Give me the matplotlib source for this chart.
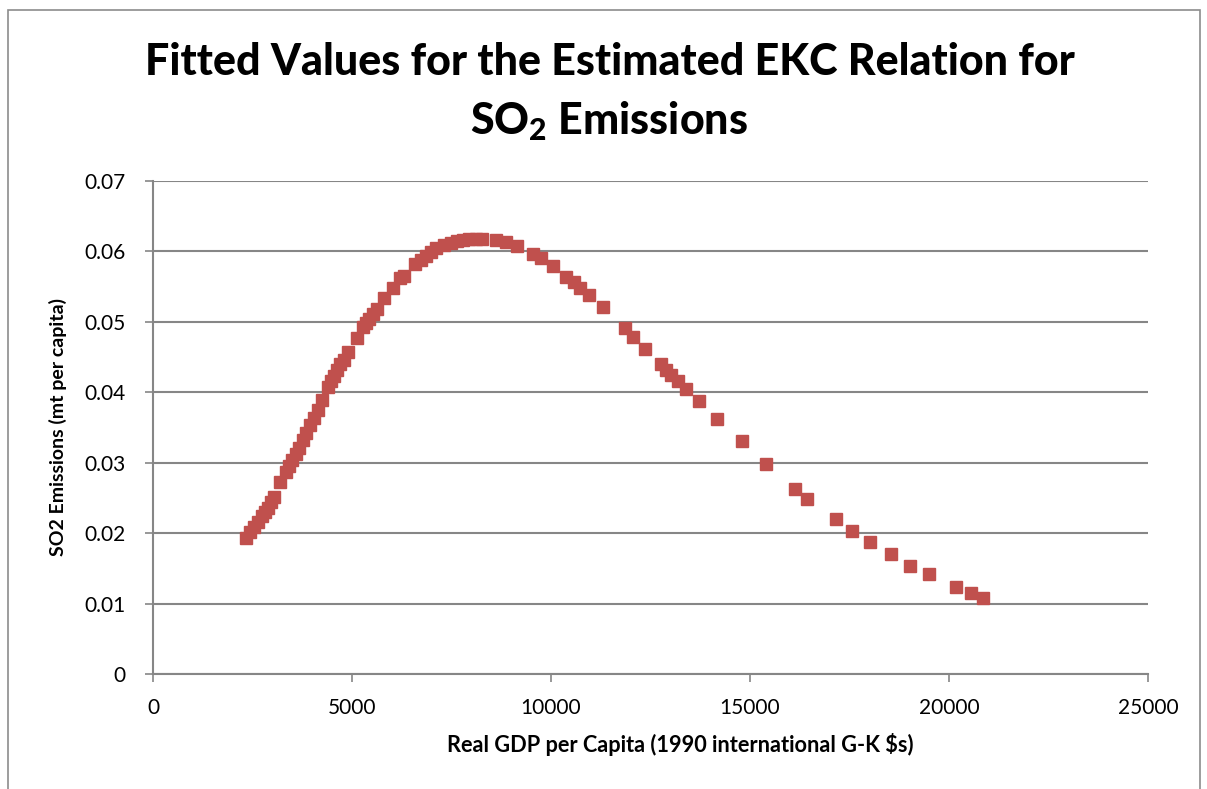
import matplotlib.pyplot as plt
from matplotlib import ticker
from matplotlib.patches import Rectangle

# GDP per capita (1990 international G-K $) and fitted SO2 emissions (mt per capita)
gdp = [2337, 2437, 2538, 2638, 2739, 2814, 2889, 2965, 3040, 3191,
       3342, 3417, 3492, 3593, 3668, 3769, 3844, 3945, 4045, 4146,
       4246, 4397, 4472, 4548, 4623, 4698, 4799, 4899, 5126, 5276,
       5352, 5427, 5528, 5628, 5804, 6030, 6206, 6307, 6583, 6734,
       6859, 6985, 7111, 7312, 7487, 7638, 7789, 7940, 8116, 8266,
       8618, 8869, 9146, 9548, 9749, 10050, 10377, 10578, 10729, 10955,
       11307, 11859, 12060, 12362, 12764, 12889, 13015, 13191, 13392, 13719,
       14171, 14791, 15402, 16131, 16442, 17153, 17570, 18007, 18534, 19028,
       19490, 20168, 20561, 20854]
so2 = [0.0193, 0.0202, 0.0209, 0.0216, 0.0224, 0.0230, 0.0236, 0.0244, 0.0251, 0.0273,
       0.0287, 0.0295, 0.0304, 0.0312, 0.0321, 0.0332, 0.0342, 0.0354, 0.0363, 0.0375,
       0.0389, 0.0407, 0.0416, 0.0423, 0.0432, 0.0440, 0.0446, 0.0457, 0.0477, 0.0493,
       0.0498, 0.0504, 0.0511, 0.0518, 0.0534, 0.0548, 0.0562, 0.0565, 0.0582, 0.0588,
       0.0593, 0.0599, 0.0605, 0.0609, 0.0612, 0.0615, 0.0616, 0.0617, 0.0617, 0.0617,
       0.0616, 0.0613, 0.0608, 0.0596, 0.0591, 0.0579, 0.0564, 0.0557, 0.0548, 0.0538,
       0.0521, 0.0491, 0.0478, 0.0461, 0.0440, 0.0432, 0.0424, 0.0416, 0.0405, 0.0387,
       0.0362, 0.0331, 0.0298, 0.0263, 0.0249, 0.0220, 0.0203, 0.0188, 0.0170, 0.0154,
       0.0142, 0.0124, 0.0115, 0.0108]

plt.rcParams['font.family'] = ['Lato', 'DejaVu Sans']
plt.rcParams['mathtext.fontset'] = 'custom'
plt.rcParams['mathtext.rm'] = 'Lato:black'
plt.rcParams['mathtext.it'] = 'Lato:black'

fig = plt.figure(figsize=(12.07, 7.89), dpi=100)
ax = fig.add_axes([0.1268, 0.1458, 0.8243, 0.6248])

# chart border like the spreadsheet chart area
fig.patches.append(Rectangle((0.0066, -0.05), 0.988, 1.037, transform=fig.transFigure,
                             fill=False, edgecolor='#8c8c8c', linewidth=1.2))

ax.plot(gdp, so2, linestyle='none', marker='s', markersize=8.5,
        color='#C0504D', markeredgecolor='#C0504D', zorder=3)

ax.set_xlim(0, 25000)
ax.set_ylim(0, 0.07)
ax.xaxis.set_major_locator(ticker.MultipleLocator(5000))
ax.yaxis.set_major_locator(ticker.MultipleLocator(0.01))
ax.yaxis.set_major_formatter(ticker.FuncFormatter(lambda v, p: '0' if v == 0 else '%g' % round(v, 2)))

ax.grid(axis='y', color='#868686', linewidth=1.5)
ax.set_axisbelow(True)
for s in ['top', 'right']:
    ax.spines[s].set_visible(False)
for s in ['left', 'bottom']:
    ax.spines[s].set_color('#868686')
    ax.spines[s].set_linewidth(1.5)
ax.tick_params(axis='both', colors='#868686', labelcolor='black', labelsize=15,
               length=6, width=1.2)
ax.tick_params(axis='x', pad=11)
ax.tick_params(axis='y', pad=14)

ax.set_xlabel("Real GDP per Capita (1990 international G-K $s)", fontsize=15.7,
              fontweight='bold', labelpad=11)
ax.xaxis.label.set_x(0.53)
ax.set_ylabel("SO2 Emissions (mt per capita)", fontsize=14, fontweight='bold', labelpad=12)

fig.text(0.505, 0.921, "Fitted Values for the Estimated EKC Relation for", ha='center',
         va='center', fontsize=31, fontweight='black')
fig.text(0.505, 0.847, r"SO$_\mathrm{2}$ Emissions", ha='center', va='center',
         fontsize=31, fontweight='black')

plt.savefig("out.png", dpi=100)
